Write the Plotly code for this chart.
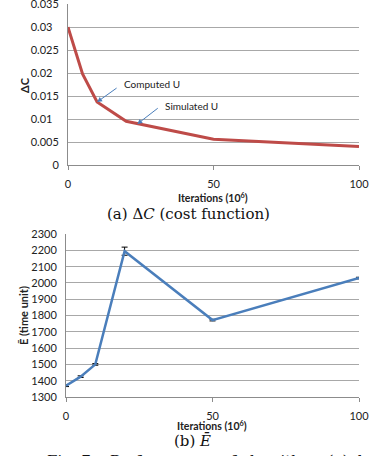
import plotly.graph_objects as go

# ---- data ----
iters = [0, 5, 10, 20, 50, 100]
delta_c = [0.0300, 0.0198, 0.0137, 0.0095, 0.0056, 0.0040]
e_bar = [1370, 1425, 1500, 2195, 1772, 2030]
e_err = [6, 5, 5, 25, 5, 5]

x_ticks = [0, 50, 100]
y1_ticks = [0, 0.005, 0.01, 0.015, 0.02, 0.025, 0.03, 0.035]
y1_ticktext = ["0", "0.005", "0.01\u2007", "0.015", "0.02\u2007", "0.025", "0.03\u2007", "0.035"]
y2_ticks = [1300, 1400, 1500, 1600, 1700, 1800, 1900, 2000, 2100, 2200, 2300]

W, H = 385, 456
def px(x):
    return x / W
def py(y):
    return 1 - y / H

RED = "#BE4B48"
BLUE = "#4A7EBB"
GRID = "#A8A8A8"
AXIS = "#8C8C8C"
SANS = "Lato"
SERIF = "DejaVu Serif"

fig = go.Figure()
fig.add_trace(go.Scatter(x=iters, y=delta_c, mode="lines",
                         line=dict(color=RED, width=3), xaxis="x", yaxis="y",
                         showlegend=False))
fig.add_trace(go.Scatter(x=iters, y=e_bar, mode="lines",
                         line=dict(color=BLUE, width=2.5), xaxis="x2", yaxis="y2",
                         error_y=dict(type="data", array=e_err, color="black",
                                      thickness=1, width=3),
                         showlegend=False))

tickfont = dict(family=SANS, size=11, color="#222")
common_x = dict(range=[0, 100], tickvals=x_ticks, showgrid=False,
                showline=True, linecolor=AXIS, linewidth=1,
                ticks="outside", ticklen=4, tickcolor=AXIS,
                tickfont=tickfont, ticklabelstandoff=5, zeroline=False,
                automargin=False)
common_y = dict(showgrid=True, gridcolor=GRID, gridwidth=1,
                showline=True, linecolor=AXIS, linewidth=1,
                ticks="", tickfont=tickfont, zeroline=False,
                ticklabelstandoff=6, automargin=False,
                ticklabeloverflow="allow")

fig.update_layout(
    width=W, height=H, margin=dict(l=0, r=0, t=0, b=0, autoexpand=False),
    autosize=False,
    paper_bgcolor="white", plot_bgcolor="white",
    xaxis=dict(domain=[px(68), px(359)], anchor="y", **common_x),
    yaxis=dict(domain=[py(165), py(4)], anchor="x", range=[0, 0.03502],
               tickvals=y1_ticks, ticktext=y1_ticktext, **common_y),
    xaxis2=dict(domain=[px(66), px(359)], anchor="y2", **common_x),
    yaxis2=dict(domain=[py(397), py(234)], anchor="x2", range=[1300, 2300.5],
                tickvals=y2_ticks, **common_y),
)

def label(x, y, text, font, **kw):
    d = dict(x=px(x), y=py(y), xref="paper", yref="paper", text=text,
             showarrow=False, xanchor="center", yanchor="middle", font=font)
    d.update(kw)
    return d

small = dict(family=SANS, size=10, color="#222")
title_f = dict(family=SANS, size=10.5, color="#222")
ytitle_f = dict(family=SANS, size=11, color="#222")
serif_f = dict(family=SERIF, size=15, color="#111")

ann = []
ann.append(dict(x=10, y=0.0137, xref="x", yref="y", text="", showarrow=True,
                ax=21, ay=-15, arrowhead=2, arrowsize=1, arrowwidth=1,
                arrowcolor=BLUE, standoff=0))
ann.append(dict(x=23.8, y=0.0089, xref="x", yref="y", text="", showarrow=True,
                ax=22, ay=-17, arrowhead=2, arrowsize=1, arrowwidth=1,
                arrowcolor=BLUE, standoff=0))
ann.append(label(122, 84, "Computed U", small, xanchor="left"))
ann.append(label(163, 106, "Simulated U", small, xanchor="left"))
ann.append(label(213, 197, "<b>Iterations (10<sup>6</sup>)</b>", title_f))
ann.append(label(212, 425, "<b>Iterations (10<sup>6</sup>)</b>", title_f))
ann.append(label(25, 85, "<b>ΔC</b>", ytitle_f, textangle=-90))
ann.append(label(23, 316, "<b>Ē (time unit)</b>", ytitle_f, textangle=-90))
ann.append(label(188, 214, "(a) Δ<i>C</i> (cost function)", serif_f))
ann.append(label(192, 441, "(b) <i>Ē</i>", serif_f))
ann.append(label(45, 450, "Fig. 7.   Performance   of algorithms (a) d", serif_f,
                 xanchor="left", yanchor="top"))
fig.update_layout(annotations=ann)

fig.write_html("out.html")
